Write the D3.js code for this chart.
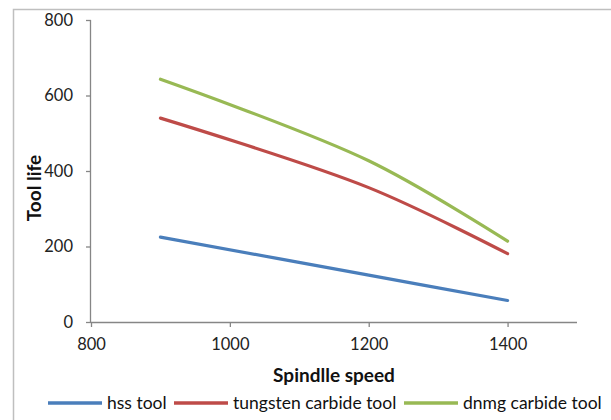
<!DOCTYPE html>
<html><head><meta charset="utf-8">
<script src="https://cdn.jsdelivr.net/npm/d3@7/dist/d3.min.js"></script>
<style>
html,body{margin:0;padding:0;background:#fff;}
svg{display:block;}
text{font-family:Lato,"Open Sans",sans-serif;}
</style></head><body>
<svg id="c" width="611" height="420"></svg>
<script>
const speeds = [900, 1200, 1400];
const hssTool = [225, 124, 57];
const tungstenTool = [540, 356, 181];
const dnmgTool = [643, 427, 214];
const seriesNames = ["hss tool", "tungsten carbide tool", "dnmg carbide tool"];
const seriesColors = ["#4A7EBB", "#BE4B48", "#98B954"];
const xTicks = [800, 1000, 1200, 1400];
const yTicks = [0, 200, 400, 600, 800];

const svg = d3.select("#c");
svg.append("rect").attr("x",13.5).attr("y",9.5).attr("width",700).attr("height",500)
  .attr("fill","none").attr("stroke","#BFBFBF").attr("stroke-width",1.5);

const x = d3.scaleLinear().domain([800,1500]).range([91,577]);
const y = d3.scaleLinear().domain([0,800]).range([322,20]);

const axisColor = "#868686";
const gx = svg.append("g").attr("transform","translate(0,322)")
  .call(d3.axisBottom(x).tickValues(xTicks).tickSize(5).tickPadding(11).tickFormat(d3.format("d")));
const gy = svg.append("g").attr("transform","translate(91,0)")
  .call(d3.axisLeft(y).tickValues(yTicks).tickSize(5).tickPadding(13).tickFormat(d3.format("d")));
[gx,gy].forEach(g=>{
  g.select(".domain").attr("stroke",axisColor).attr("stroke-width",1.3);
  g.selectAll(".tick line").attr("stroke",axisColor).attr("stroke-width",1.3);
  g.selectAll(".tick text").attr("fill","#222").style("font-size","16.5px").style("font-family","Lato,sans-serif");
});
gx.selectAll(".domain").attr("d","M91,0.5H577");
gy.selectAll(".domain").attr("d","M-0.5,322V20");

const data = [hssTool, tungstenTool, dnmgTool];
const line = d3.line().x((d,i)=>x(speeds[i])).y(d=>y(d)).curve(d3.curveCatmullRom.alpha(0.5));
data.forEach((vals,k)=>{
  svg.append("path").datum(vals).attr("d",line).attr("fill","none")
    .attr("stroke",seriesColors[k]).attr("stroke-width",3.2).attr("stroke-linecap","round");
});

svg.append("text").attr("x",334).attr("y",382).attr("text-anchor","middle")
  .style("font-size","19px").style("font-weight","bold").attr("fill","#111").text("Spindlle speed");
svg.append("text").attr("transform","translate(41,188) rotate(-90)").attr("text-anchor","middle")
  .style("font-size","19px").style("font-weight","bold").attr("fill","#111").text("Tool life");

const legendX = [48, 174, 404];
seriesNames.forEach((n,k)=>{
  const lx = legendX[k];
  svg.append("line").attr("x1",lx).attr("x2",lx+54).attr("y1",403).attr("y2",403)
    .attr("stroke",seriesColors[k]).attr("stroke-width",3.5);
  svg.append("text").attr("x",lx+59).attr("y",409).style("font-size","17.5px").attr("fill","#111").text(n);
});
</script>
</body></html>
